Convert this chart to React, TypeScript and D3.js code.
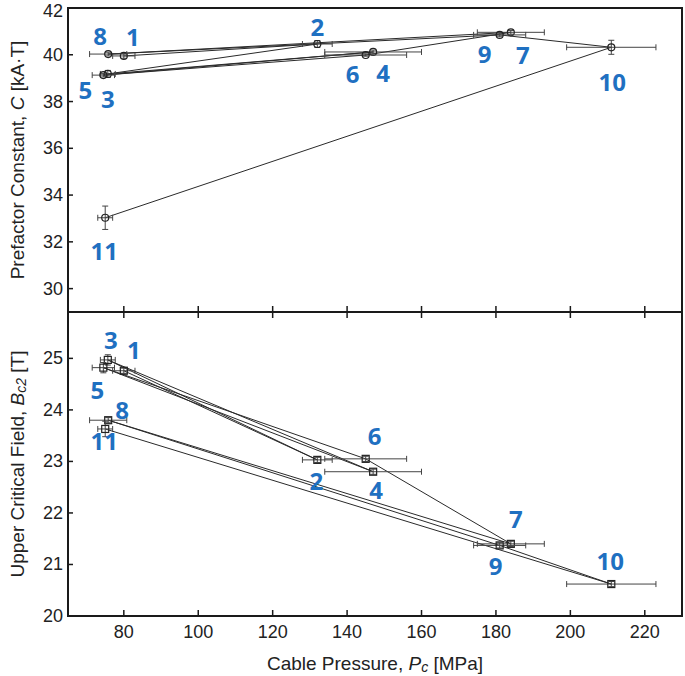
import React from "react";
import * as d3 from "d3";

const pointIds = ["1", "2", "3", "4", "5", "6", "7", "8", "9", "10", "11"];
const pressure = [80, 132, 75.7, 147, 74.5, 145, 184, 75.8, 181, 211, 75];
const pressureErr = [3, 4, 2, 13, 3, 11, 9, 5, 7, 12, 2];
const prefactor = [39.95, 40.46, 39.18, 40.12, 39.13, 39.99, 40.96, 40.03, 40.85, 40.32, 33.03];
const prefactorErr = [0.1, 0.15, 0.15, 0.08, 0.08, 0.05, 0.08, 0.08, 0.08, 0.3, 0.5];
const bc2 = [24.76, 23.03, 24.97, 22.8, 24.82, 23.05, 21.4, 23.8, 21.37, 20.62, 23.63];
const bc2Err = [0.05, 0.05, 0.1, 0.05, 0.1, 0.05, 0.05, 0.05, 0.05, 0.05, 0.15];

const xTicks = [80, 100, 120, 140, 160, 180, 200, 220];
const topTicks = [30, 32, 34, 36, 38, 40, 42];
const bottomTicks = [20, 21, 22, 23, 24, 25];

// label pixel offsets from each point
const topLabelOffsets: [number, number][] = [
  [9, -19], [0, -18], [0, 25], [10, 21], [-18, 14], [-13, 18], [12, 22], [-8, -19], [-15, 19], [1, 34], [-1, 33],
];
const bottomLabelOffsets: [number, number][] = [
  [10, -21], [-1, 21], [3, -20], [3, 18], [-6, 22], [9, -23], [5, -25], [14, -11], [-4, 20], [-1, -24], [-1, 12],
];

const W = 685;
const H = 676;
const left = 68;
const right = 682;
const topY0 = 8;
const midY = 312;
const botY1 = 616;

const x = d3.scaleLinear().domain([65, 230]).range([left, right]);
const yTop = d3.scaleLinear().domain([29, 42]).range([midY, topY0]);
const yBot = d3.scaleLinear().domain([20, 25.9]).range([botY1, midY]);

const axisColor = "#1a1a1a";
const lineColor = "#2a2a2a";
const errColor = "#444";
const labelColor = "#1f70c1";
const tickFont = "'Liberation Sans', Arial, sans-serif";
const tickSize = 18;
const titleSize = 19;

function Panel({
  ys,
  yErr,
  yScale,
  marker,
  offsets,
}: {
  ys: number[];
  yErr: number[];
  yScale: d3.ScaleLinear<number, number>;
  marker: "circle" | "square";
  offsets: [number, number][];
}) {
  const pts = pressure.map((p, i) => [x(p), yScale(ys[i])] as [number, number]);
  const line = d3.line()(pts) || "";
  const cap = 3;
  return (
    <g>
      <path d={line} fill="none" stroke={lineColor} strokeWidth={1} />
      {pressure.map((p, i) => {
        const cx = x(p);
        const cy = yScale(ys[i]);
        const x0 = x(p - pressureErr[i]);
        const x1 = x(p + pressureErr[i]);
        const y0 = yScale(ys[i] - yErr[i]);
        const y1 = yScale(ys[i] + yErr[i]);
        return (
          <g key={i} stroke={errColor} strokeWidth={1} fill="none">
            <line x1={x0} x2={x1} y1={cy} y2={cy} />
            <line x1={x0} x2={x0} y1={cy - cap} y2={cy + cap} />
            <line x1={x1} x2={x1} y1={cy - cap} y2={cy + cap} />
            <line x1={cx} x2={cx} y1={y0} y2={y1} />
            <line x1={cx - cap} x2={cx + cap} y1={y0} y2={y0} />
            <line x1={cx - cap} x2={cx + cap} y1={y1} y2={y1} />
            {marker === "circle" ? (
              <circle cx={cx} cy={cy} r={3.5} stroke="#222" strokeWidth={1.2} />
            ) : (
              <rect x={cx - 3.5} y={cy - 3.5} width={7} height={7} stroke="#222" strokeWidth={1.2} />
            )}
          </g>
        );
      })}
      {pointIds.map((id, i) => (
        <text
          key={id}
          x={x(pressure[i]) + offsets[i][0]}
          y={yScale(ys[i]) + offsets[i][1]}
          textAnchor="middle"
          dominantBaseline="central"
          fill={labelColor}
          fontFamily="'Open Sans', sans-serif"
          fontWeight={700}
          fontSize={24}
        >
          {id}
        </text>
      ))}
    </g>
  );
}

export default function App() {
  return (
    <svg
      width={W}
      height={H}
      style={{ position: "absolute", left: 0, top: 0, background: "#fff" }}
    >
      <rect x={0} y={0} width={W} height={H} fill="#fff" />
      {topTicks.map((t) => (
        <g key={"tt" + t}>
          <line x1={left} x2={left + 5} y1={yTop(t)} y2={yTop(t)} stroke={axisColor} strokeWidth={1.5} />
          <text x={left - 5} y={Math.max(yTop(t), 11)} textAnchor="end" dominantBaseline="central" fontFamily={tickFont} fontSize={tickSize} fill="#222">
            {t}
          </text>
        </g>
      ))}
      {bottomTicks.map((t) => (
        <g key={"bt" + t}>
          <line x1={left} x2={left + 5} y1={yBot(t)} y2={yBot(t)} stroke={axisColor} strokeWidth={1.5} />
          <text x={left - 5} y={yBot(t)} textAnchor="end" dominantBaseline="central" fontFamily={tickFont} fontSize={tickSize} fill="#222">
            {t}
          </text>
        </g>
      ))}
      {xTicks.map((t) => (
        <g key={"xt" + t}>
          <line x1={x(t)} x2={x(t)} y1={botY1} y2={botY1 - 6} stroke={axisColor} strokeWidth={1.5} />
          <line x1={x(t)} x2={x(t)} y1={midY - 6} y2={midY + 6} stroke={axisColor} strokeWidth={1.5} />
          <text x={x(t)} y={botY1 + 16} textAnchor="middle" dominantBaseline="central" fontFamily={tickFont} fontSize={tickSize} fill="#222">
            {t}
          </text>
        </g>
      ))}
      <rect x={left} y={topY0} width={right - left} height={midY - topY0} fill="none" stroke={axisColor} strokeWidth={2} />
      <rect x={left} y={midY} width={right - left} height={botY1 - midY} fill="none" stroke={axisColor} strokeWidth={2} />

      <Panel ys={prefactor} yErr={prefactorErr} yScale={yTop} marker="circle" offsets={topLabelOffsets} />
      <Panel ys={bc2} yErr={bc2Err} yScale={yBot} marker="square" offsets={bottomLabelOffsets} />

      <text
        transform={`translate(17, ${(topY0 + midY) / 2}) rotate(-90)`}
        textAnchor="middle"
        dominantBaseline="central"
        fontFamily={tickFont}
        fontSize={titleSize}
        fill="#222"
      >
        Prefactor Constant, <tspan fontStyle="italic">C</tspan> [kA·T]
      </text>
      <text
        transform={`translate(17, ${(midY + botY1) / 2}) rotate(-90)`}
        textAnchor="middle"
        dominantBaseline="central"
        fontFamily={tickFont}
        fontSize={titleSize}
        fill="#222"
      >
        Upper Critical Field, <tspan fontStyle="italic">B</tspan>
        <tspan fontStyle="italic" fontSize={14} dy={4}>c2</tspan>
        <tspan dy={-4}> [T]</tspan>
      </text>
      <text
        x={(left + right) / 2}
        y={663}
        textAnchor="middle"
        dominantBaseline="central"
        fontFamily={tickFont}
        fontSize={titleSize}
        fill="#222"
      >
        Cable Pressure, <tspan fontStyle="italic">P</tspan>
        <tspan fontStyle="italic" fontSize={14} dy={4}>c</tspan>
        <tspan dy={-4}> [MPa]</tspan>
      </text>
    </svg>
  );
}
